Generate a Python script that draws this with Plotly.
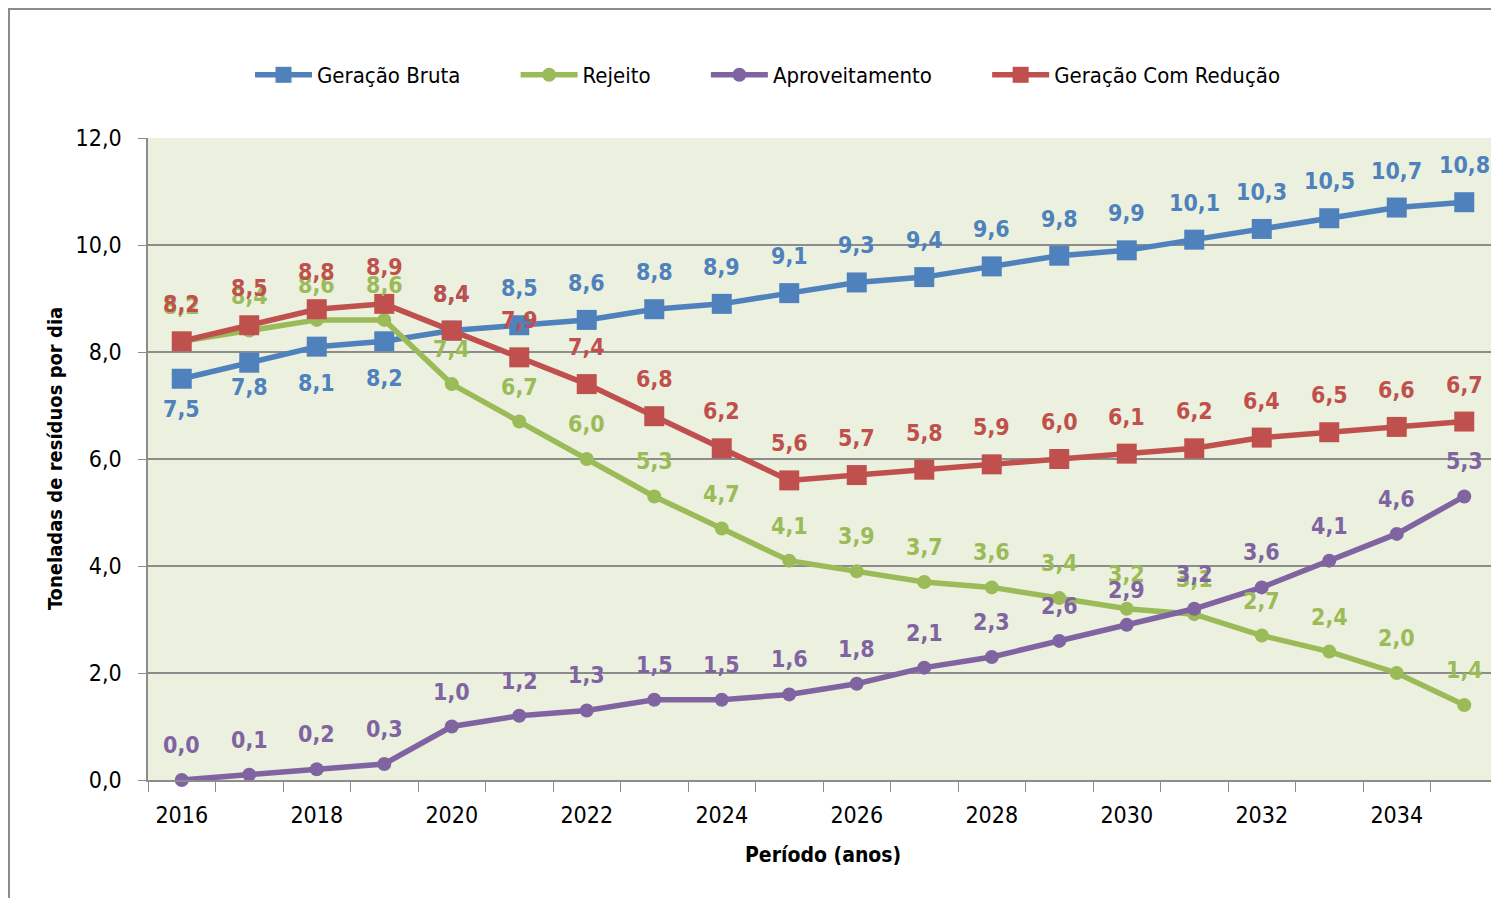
import plotly.graph_objects as go

years = list(range(2016, 2036))
geracao_bruta = [7.5, 7.8, 8.1, 8.2, 8.4, 8.5, 8.6, 8.8, 8.9, 9.1, 9.3, 9.4, 9.6, 9.8, 9.9, 10.1, 10.3, 10.5, 10.7, 10.8]
rejeito = [8.2, 8.4, 8.6, 8.6, 7.4, 6.7, 6.0, 5.3, 4.7, 4.1, 3.9, 3.7, 3.6, 3.4, 3.2, 3.1, 2.7, 2.4, 2.0, 1.4]
aproveitamento = [0.0, 0.1, 0.2, 0.3, 1.0, 1.2, 1.3, 1.5, 1.5, 1.6, 1.8, 2.1, 2.3, 2.6, 2.9, 3.2, 3.6, 4.1, 4.6, 5.3]
geracao_reducao = [8.2, 8.5, 8.8, 8.9, 8.4, 7.9, 7.4, 6.8, 6.2, 5.6, 5.7, 5.8, 5.9, 6.0, 6.1, 6.2, 6.4, 6.5, 6.6, 6.7]

names = ["Geração Bruta", "Rejeito", "Aproveitamento", "Geração Com Redução"]
colors = ["#4F81BD", "#9BBB59", "#8064A2", "#C0504D"]
symbols = ["square", "circle", "circle", "square"]
msizes = [20, 14, 14, 20]
# label above (+) or below (-) each point, in pixels
bruta_shift = [-30, -24, -36, -37] + [37] * 16
shifts = [bruta_shift, [35] * 20, [35] * 20, [37] * 20]

FONT = "Liberation Sans Narrow, Arial Narrow, DejaVu Sans Condensed, sans-serif"

W, H = 1483, 890
L, R, T, B = 140, 0, 130, 118
PW, PH = W - L - R, H - T - B

PAD = "\u00a0" * 8  # spacing between legend entries

fig = go.Figure()
series = [geracao_bruta, rejeito, aproveitamento, geracao_reducao]
annotations = []
for i, (name, vals, col, sym, ms, sh) in enumerate(zip(names, series, colors, symbols, msizes, shifts)):
    fig.add_trace(go.Scatter(
        x=years, y=vals, name=name + (PAD if i < len(names) - 1 else ""), mode="lines+markers",
        line=dict(color=col, width=5.5),
        marker=dict(color=col, symbol=sym, size=ms),
        cliponaxis=False,
    ))
    for xv, yv, s in zip(years, vals, sh):
        annotations.append(dict(
            x=xv, y=yv, xref="x", yref="y", text=f"<b>{yv:.1f}</b>".replace(".", ","),
            showarrow=False, yshift=s, xanchor="center", yanchor="middle",
            font=dict(family=FONT, size=23, color=col),
        ))

annotations.append(dict(
    x=(55 - 8 - L) / PW, y=0.5, xref="paper", yref="paper", textangle=-90,
    text="<b>Toneladas de resíduos por dia</b>", showarrow=False,
    xanchor="center", yanchor="middle", font=dict(family=FONT, size=20, color="black")))
annotations.append(dict(
    x=(823 - 8 - L) / PW, y=-(855 - 8 - (T + PH)) / PH, xref="paper", yref="paper",
    text="<b>Período (anos)</b>", showarrow=False,
    xanchor="center", yanchor="middle", font=dict(family=FONT, size=21, color="black")))

fig.update_layout(
    width=W, height=H,
    margin=dict(l=L, r=R, t=T, b=B),
    paper_bgcolor="white", plot_bgcolor="#EBF1DE",
    separators=",.",
    font=dict(family=FONT, size=22, color="black"),
    legend=dict(orientation="h", x=(250 - 8 - L) / PW, xanchor="left",
                y=1 + (T - (75 - 8)) / PH, yanchor="middle",
                font=dict(family=FONT, size=22), itemwidth=57,
                bgcolor="rgba(0,0,0,0)"),
    showlegend=True,
    annotations=annotations,
)
fig.update_yaxes(
    range=[0, 12], tick0=0, dtick=2, tickformat=".1f",
    showgrid=True, gridcolor="#8C8C8C", gridwidth=1.5,
    showline=True, linecolor="#8C8C8C", linewidth=1.5,
    ticks="outside", ticklen=8, tickcolor="#8C8C8C",
    zeroline=False, ticklabelstandoff=12,
    tickfont=dict(family=FONT, size=23),
)
fig.update_xaxes(
    range=[2015.5, 2015.5 + PW / 67.5], tick0=2016, dtick=2, ticks="", showgrid=False,
    showline=True, linecolor="#8C8C8C", linewidth=1.5,
    tickfont=dict(family=FONT, size=23), ticklabelstandoff=14,
    minor=dict(tick0=2015.5, dtick=1, ticks="outside", ticklen=10, tickcolor="#8C8C8C", showgrid=False),
)
fig.add_shape(type="rect", xref="paper", yref="paper",
              x0=-(L - 1) / PW, x1=1.2, y0=-0.5, y1=1 + (T - 1) / PH,
              line=dict(color="#8C8C8C", width=2), fillcolor="rgba(0,0,0,0)", layer="below")

fig.write_html("out.html")
